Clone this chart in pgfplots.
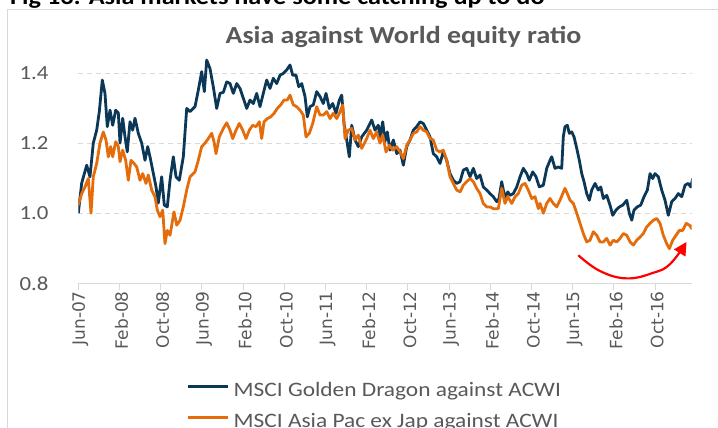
\documentclass[border=0pt]{standalone}
\usepackage{fontspec}
\setmainfont{Carlito}[FakeStretch=1.14]
\newfontfamily\tickfont{DejaVu Sans}
\usepackage{pgfplots}
\pgfplotsset{compat=1.18}
\usetikzlibrary{arrows.meta}

\definecolor{dragon}{RGB}{12,56,88}
\definecolor{apxj}{RGB}{228,108,10}
\definecolor{arrowred}{RGB}{255,0,0}
\definecolor{txtgray}{RGB}{89,89,89}
\definecolor{gridgray}{RGB}{217,217,217}

\begin{document}
\begin{tikzpicture}
\useasboundingbox (0pt,0pt) rectangle (718pt,428pt);
\clip (0pt,0pt) rectangle (718pt,428pt);
\fill[white] (0pt,0pt) rectangle (718pt,428pt);
\draw[gridgray, line width=1pt] (7pt,-10pt) rectangle (730pt,418.7pt);

\node[anchor=base west, inner sep=0pt, font=\bfseries\fontsize{23}{23}\selectfont]
  at (10pt,423.5pt) {Fig 13: Asia markets have some catching up to do};
\node[anchor=base, inner sep=0pt, text=txtgray, font=\bfseries\fontsize{24.5}{24.5}\selectfont]
  at (403.5pt,384pt) {Asia against World equity ratio};

\begin{axis}[
    at={(78.3pt,144.7pt)}, anchor=south west,
    scale only axis, width=613.4pt, height=245.3pt,
    xmin=0, xmax=119.1, ymin=0.8, ymax=1.5,
    axis x line*=bottom, axis y line*=left,
    x axis line style={draw=gridgray, line width=1pt, -},
    y axis line style={draw=none},
    xtick={0,8,...,112},
    xticklabels={Jun-07,Feb-08,Oct-08,Jun-09,Feb-10,Oct-10,Jun-11,Feb-12,Oct-12,Jun-13,Feb-14,Oct-14,Jun-15,Feb-16,Oct-16},
    ytick={0.8,1.0,1.2,1.4},
    tick align=outside, major tick length=6.7pt,
    xtick style={draw=gridgray, line width=1pt},
    ytick style={draw=none},
    ymajorgrids,
    major grid style={gridgray, line width=1pt, dash pattern=on 5pt off 4pt},
    xticklabel style={rotate=90, anchor=east, inner sep=0pt, xshift=-1pt, yshift=-2pt,
        text=txtgray, font=\tickfont\fontsize{17}{17}\selectfont},
    yticklabel style={anchor=east, inner sep=0pt, xshift=-23pt, text=txtgray,
        font=\fontsize{20}{20}\selectfont,
        /pgf/number format/fixed, /pgf/number format/fixed zerofill,
        /pgf/number format/precision=1},
    /pgf/number format/assume math mode=true,
    no markers,
    legend cell align=left,
    legend style={at={(0.1767,-0.402)}, anchor=north west, draw=none, fill=none,
        inner sep=0pt, row sep=13.7pt, column sep=4pt, text=txtgray,
        font=\fontsize{20.5}{20.5}\selectfont,
        nodes={inner sep=0pt, text height=14pt, text depth=4pt}},
    legend image code/.code={\draw[#1] (0pt,5pt) -- (40pt,5pt);},
]
\addplot[dragon, line width=2.8pt, line join=round] coordinates {
(0.00,1.000) (0.66,1.086) (1.63,1.137) (2.27,1.104) (2.91,1.200) (3.57,1.237)
(4.08,1.290) (4.66,1.380) (5.18,1.342) (5.63,1.247) (6.16,1.294) (6.68,1.251)
(7.26,1.294) (7.77,1.286) (8.10,1.200) (8.62,1.271) (9.07,1.218) (9.51,1.175)
(10.04,1.261) (10.56,1.237) (11.01,1.271) (11.65,1.228) (12.31,1.200) (12.95,1.151)
(13.48,1.190) (13.92,1.161) (14.56,1.114) (15.09,1.075) (15.53,1.029) (16.19,1.104)
(16.70,1.023) (17.28,1.018) (17.81,1.094) (18.45,1.161) (18.97,1.104) (19.61,1.094)
(20.39,1.161) (21.05,1.299) (21.69,1.290) (22.66,1.304) (23.30,1.351) (23.96,1.404)
(24.47,1.347) (24.93,1.437) (25.57,1.413) (26.21,1.361) (26.87,1.299) (27.51,1.342)
(28.16,1.345) (28.82,1.375) (29.46,1.370) (30.10,1.342) (30.76,1.370) (31.40,1.356)
(32.04,1.328) (32.70,1.299) (33.34,1.323) (33.98,1.313) (34.64,1.342) (35.28,1.304)
(35.92,1.342) (36.58,1.380) (37.22,1.356) (37.86,1.385) (38.52,1.370) (39.17,1.394)
(39.81,1.399) (40.47,1.409) (41.11,1.423) (41.63,1.394) (42.27,1.394) (42.80,1.361)
(43.38,1.370) (44.02,1.333) (44.47,1.275) (44.99,1.304) (45.63,1.309) (46.29,1.347)
(46.93,1.333) (47.57,1.313) (48.10,1.342) (48.74,1.299) (49.40,1.313) (50.04,1.285)
(50.68,1.323) (51.15,1.337) (51.59,1.256) (52.12,1.209) (52.62,1.161) (53.09,1.251)
(53.73,1.209) (54.37,1.190) (55.03,1.218) (56.00,1.237) (56.97,1.266) (57.61,1.237)
(58.25,1.251) (58.58,1.218) (59.11,1.261) (59.55,1.204) (60.00,1.232) (60.52,1.180)
(61.17,1.209) (61.83,1.170) (62.47,1.180) (63.11,1.137) (63.77,1.190) (64.41,1.209)
(65.05,1.237) (65.71,1.247) (66.35,1.261) (66.99,1.256) (67.65,1.237) (68.29,1.218)
(68.93,1.170) (69.59,1.161) (70.23,1.142) (70.87,1.175) (71.53,1.151) (72.17,1.113)
(72.82,1.094) (73.48,1.085) (74.12,1.090) (74.76,1.123) (75.42,1.128) (76.06,1.104)
(76.70,1.128) (77.36,1.099) (78.00,1.109) (78.64,1.075) (79.30,1.066) (79.94,1.056)
(80.58,1.047) (81.24,1.033) (81.69,1.042) (82.21,1.090) (82.85,1.042) (83.38,1.061)
(83.83,1.051) (84.47,1.056) (85.13,1.075) (85.77,1.104) (86.41,1.128) (87.07,1.113)
(87.57,1.094) (88.23,1.118) (88.87,1.104) (89.51,1.075) (90.29,1.080) (90.95,1.128)
(91.59,1.151) (91.92,1.161) (92.56,1.128) (93.20,1.132) (93.86,1.128) (94.17,1.218)
(94.50,1.247) (94.95,1.251) (95.34,1.228) (95.81,1.232) (96.25,1.218) (96.78,1.185)
(97.28,1.151) (97.75,1.113) (98.19,1.090) (98.72,1.056) (99.22,1.037) (99.69,1.066)
(100.33,1.085) (100.97,1.066) (101.44,1.075) (101.94,1.042) (102.60,1.051) (103.24,1.023)
(103.77,0.994) (104.41,1.009) (105.05,1.018) (105.71,1.023) (106.49,1.037) (106.99,1.000)
(107.46,0.980) (107.90,1.009) (108.54,1.018) (109.20,1.023) (109.84,1.047) (110.49,1.066)
(111.01,1.113) (111.53,1.099) (111.98,1.113) (112.62,1.104) (113.28,1.066) (113.92,1.037)
(114.56,0.994) (115.22,1.033) (115.86,1.042) (116.50,1.056) (117.17,1.047) (117.81,1.080)
(118.45,1.085) (118.91,1.075) (119.30,1.099)
};
\addlegendentry{MSCI Golden Dragon against ACWI}
\addplot[apxj, line width=2.8pt, line join=round] coordinates {
(0.00,1.023) (0.66,1.056) (1.30,1.075) (1.94,1.099) (2.47,1.000) (2.91,1.104)
(3.57,1.142) (4.21,1.200) (4.85,1.232) (5.38,1.209) (5.83,1.161) (6.29,1.190)
(6.68,1.161) (7.26,1.204) (7.77,1.190) (8.10,1.147) (8.62,1.180) (9.20,1.151)
(9.71,1.094) (10.23,1.151) (10.82,1.142) (11.34,1.132) (11.98,1.094) (12.50,1.113)
(13.15,1.085) (13.59,1.109) (14.25,1.066) (14.89,1.047) (15.34,1.009) (15.86,0.990)
(16.39,1.009) (16.83,0.913) (17.28,0.951) (17.81,0.937) (18.58,1.004) (19.11,0.966)
(19.75,0.980) (20.39,1.018) (21.05,1.066) (21.69,1.104) (22.66,1.118) (23.30,1.151)
(23.96,1.190) (24.60,1.200) (25.24,1.213) (25.90,1.228) (26.35,1.204) (26.74,1.170)
(27.38,1.218) (28.16,1.242) (28.82,1.258) (29.46,1.237) (29.98,1.213) (30.62,1.237)
(31.26,1.256) (31.92,1.237) (32.56,1.213) (33.20,1.237) (33.86,1.251) (34.50,1.247)
(35.15,1.261) (35.61,1.213) (36.06,1.261) (36.70,1.270) (37.36,1.275) (38.00,1.285)
(38.64,1.299) (39.30,1.309) (39.94,1.323) (40.58,1.323) (41.11,1.337) (41.75,1.309)
(42.41,1.304) (43.05,1.294) (43.69,1.280) (44.21,1.218) (44.85,1.228) (45.51,1.256)
(46.29,1.304) (46.93,1.280) (47.57,1.280) (48.23,1.290) (48.87,1.270) (49.51,1.285)
(50.17,1.270) (50.68,1.285) (51.34,1.309) (51.79,1.213) (52.43,1.237) (53.09,1.242)
(53.73,1.209) (54.37,1.223) (55.03,1.185) (56.00,1.213) (56.64,1.237) (57.28,1.213)
(57.94,1.232) (58.58,1.200) (59.11,1.223) (59.75,1.175) (60.39,1.194) (61.05,1.180)
(61.83,1.190) (62.47,1.175) (63.11,1.156) (63.77,1.194) (64.41,1.209) (65.05,1.228)
(65.71,1.232) (66.35,1.247) (66.99,1.237) (67.65,1.232) (68.29,1.213) (68.93,1.209)
(69.59,1.180) (70.23,1.175) (70.87,1.180) (71.53,1.151) (72.17,1.104) (72.82,1.085)
(73.48,1.066) (74.12,1.061) (74.76,1.080) (75.42,1.090) (76.06,1.099) (76.70,1.090)
(77.36,1.071) (78.00,1.056) (78.64,1.028) (79.30,1.018) (79.94,1.018) (80.58,1.013)
(81.55,1.013) (82.21,1.071) (82.85,1.028) (83.38,1.047) (84.16,1.028) (84.80,1.047)
(85.44,1.056) (86.10,1.080) (86.74,1.085) (87.38,1.066) (88.04,1.042) (88.68,1.047)
(89.32,1.013) (89.65,1.028) (90.29,1.000) (90.95,1.028) (91.59,1.042) (92.23,1.028)
(92.89,1.018) (93.53,1.037) (94.06,1.056) (94.50,1.071) (94.95,1.056) (95.48,1.037)
(96.12,1.028) (96.78,1.000) (97.42,0.971) (98.06,0.942) (98.72,0.918) (99.36,0.923)
(100.00,0.947) (100.66,0.937) (101.30,0.918) (101.94,0.918) (102.60,0.928) (103.24,0.909)
(103.88,0.923) (104.54,0.918) (105.18,0.928) (105.83,0.942) (106.49,0.937) (107.13,0.918)
(107.77,0.909) (108.43,0.923) (109.07,0.932) (109.71,0.942) (110.37,0.961) (111.01,0.971)
(111.65,0.980) (112.31,0.985) (112.95,0.971) (113.59,0.937) (114.25,0.913) (114.76,0.899)
(115.42,0.923) (116.06,0.937) (116.70,0.951) (117.36,0.951) (118.04,0.971) (118.64,0.966)
(119.11,0.956) (119.42,0.971)
};
\addlegendentry{MSCI Asia Pac ex Jap against ACWI}
\draw[arrowred, line width=2.2pt, -{Triangle[length=13pt,width=13pt]}]
  plot[smooth, tension=0.7] coordinates {(axis cs:97.09,0.880) (axis cs:101.3,0.835)
  (axis cs:106.5,0.814) (axis cs:111.65,0.830) (axis cs:114.9,0.855) (axis cs:118.1,0.918)};
\end{axis}
\end{tikzpicture}
\end{document}
